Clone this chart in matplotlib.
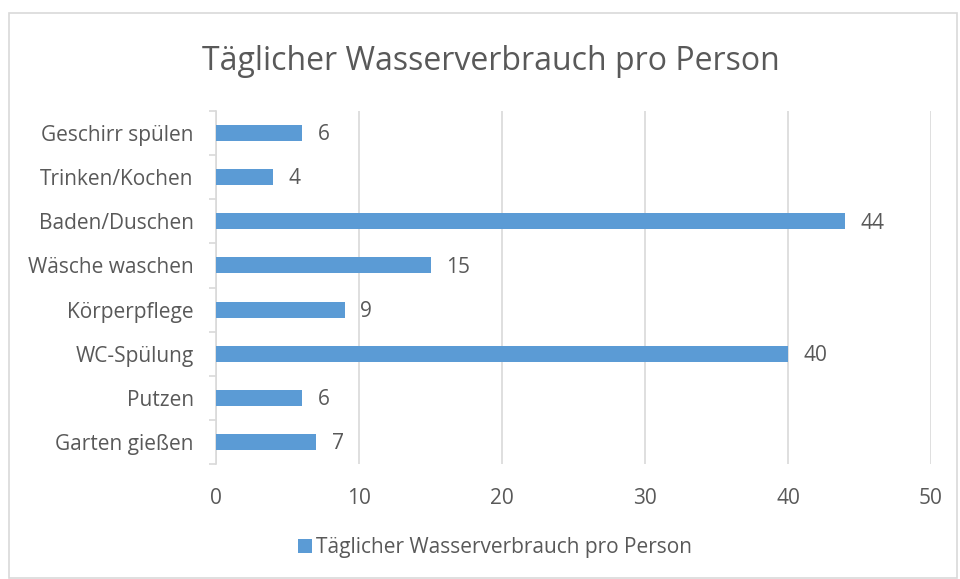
import matplotlib
matplotlib.use("Agg")
import matplotlib.pyplot as plt
from matplotlib.patches import Rectangle

plt.rcParams["font.family"] = ["Open Sans", "DejaVu Sans"]

# Daten (von oben nach unten wie im Bild)
categories = ["Geschirr spülen", "Trinken/Kochen", "Baden/Duschen", "Wäsche waschen",
              "Körperpflege", "WC-Spülung", "Putzen", "Garten gießen"]
values = [6, 4, 44, 15, 9, 40, 6, 7]
x_ticks = [0, 10, 20, 30, 40, 50]
series_name = "Täglicher Wasserverbrauch pro Person"

bar_color = "#5B9BD5"
text_color = "#595959"
grid_color = "#D9D9D9"
fs = 15

fig = plt.figure(figsize=(9.6, 5.79), dpi=100)
fig.patches.append(Rectangle((9 / 960, 1 / 579), 948 / 960, 565 / 579, transform=fig.transFigure,
                             fill=False, edgecolor=grid_color, linewidth=1.2))

ax = fig.add_axes([216 / 960, 1 - 464 / 579, 715 / 960, 353 / 579])
pos = list(range(len(categories)))[::-1]
ax.barh(pos, values, height=0.36, color=bar_color, zorder=3, label=series_name)

for p, v in zip(pos, values):
    ax.text(v + 1.1, p - 0.04, str(v), va="center", ha="left", fontsize=fs, color=text_color)

ax.set_xlim(0, 50)
ax.set_ylim(-0.5, len(categories) - 0.5)
ax.set_xticks(x_ticks)
ax.set_xticklabels([str(t) for t in x_ticks])
ax.tick_params(axis="x", length=0, pad=17, labelsize=fs, labelcolor=text_color)
ax.grid(axis="x", color=grid_color, linewidth=1.2, zorder=0)

# Kategorie-Grenzen als Ticks, Beschriftung in der Mitte
ax.set_yticks([i - 0.5 for i in range(len(categories) + 1)])
ax.set_yticklabels([])
ax.set_yticks(pos, minor=True)
ax.set_yticklabels(categories, minor=True)
ax.tick_params(axis="y", which="major", length=5, color=grid_color, width=1.2)
ax.tick_params(axis="y", which="minor", length=0, pad=16, labelsize=fs, labelcolor=text_color)

for s in ["top", "right", "bottom"]:
    ax.spines[s].set_visible(False)
ax.spines["left"].set_color(grid_color)
ax.spines["left"].set_linewidth(1.2)

fig.text(491 / 960, 1 - 62 / 579, series_name, ha="center", va="center",
         fontsize=23, color=text_color)

fig.legend(loc="center", bbox_to_anchor=(495 / 960, 1 - 548 / 579), frameon=False,
           fontsize=fs, labelcolor=text_color, handlelength=0.65, handleheight=0.65,
           handletextpad=0.2)

fig.savefig("out.png", dpi=100)
